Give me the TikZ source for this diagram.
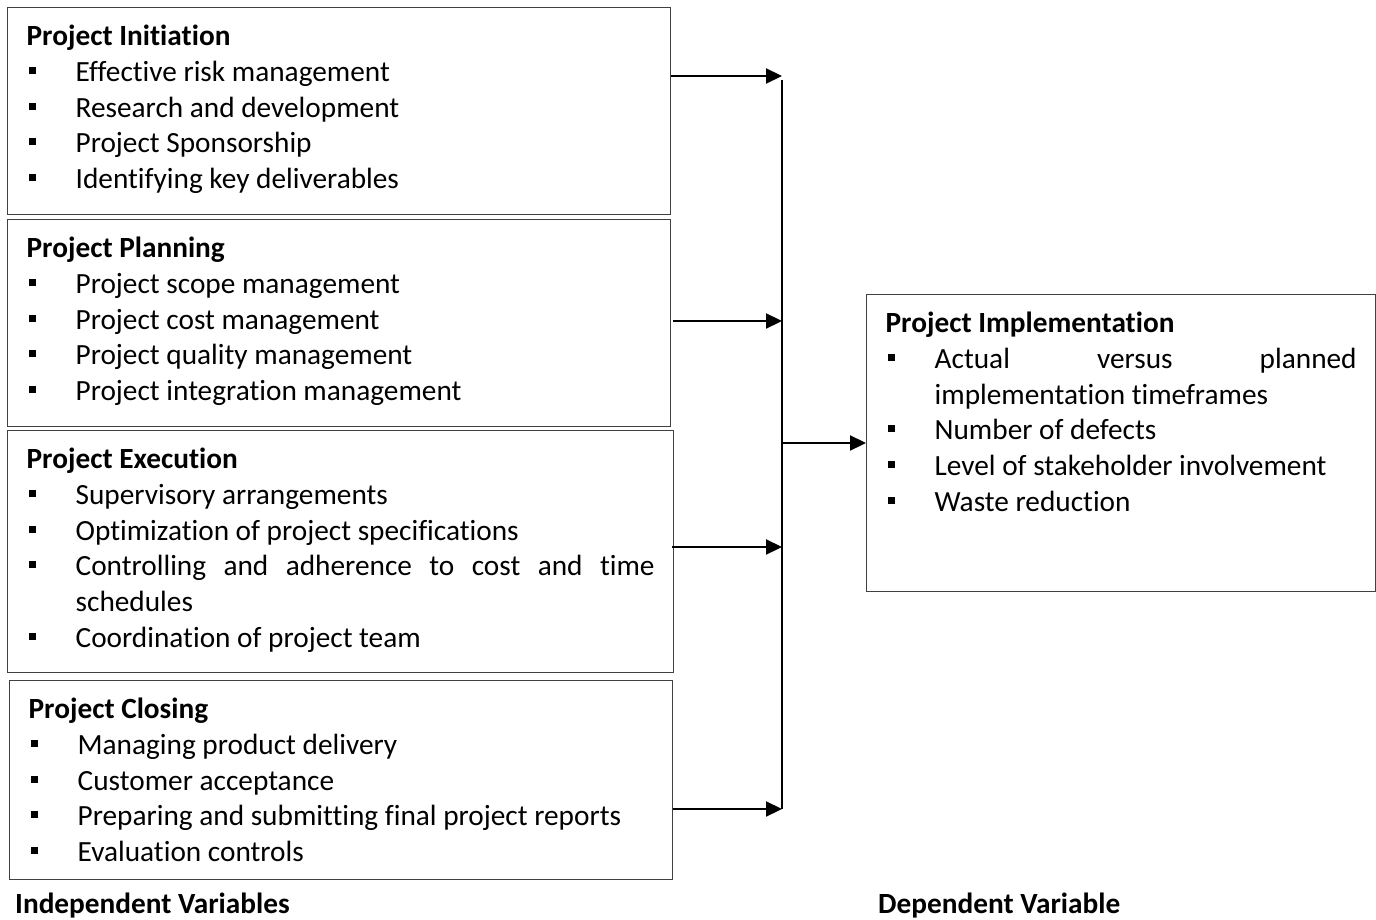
\documentclass[tikz,border=0pt]{standalone}
\usepackage{fontspec}
\setmainfont{Carlito}[Ligatures=NoCommon]
\usetikzlibrary{arrows.meta}

\newcommand{\ptitle}[1]{\vspace*{13pt}\noindent\strut\textbf{#1}\par}
\newcommand{\pitem}[1]{\par\leftskip=49pt\noindent\llap{\raisebox{7.5pt}{\rule{7pt}{7pt}}\hspace{40pt}}#1\par}

\begin{document}
\begin{tikzpicture}[x=1pt, y=-1pt,
    panel/.style={draw=black!75, line width=1.3pt, anchor=north west, inner xsep=19pt, inner ysep=0pt,
      font={\fontsize{29.3}{35.7}\selectfont\tolerance=10000\hyphenpenalty=10000}},
    caption/.style={anchor=base west, inner sep=0pt, font=\fontsize{29.3}{35.7}\selectfont\bfseries},
    flow/.style={line width=2.2pt, -{Triangle[length=16pt,width=15pt]}},
    bus/.style={line width=2.2pt}]
	\useasboundingbox (0,0) rectangle (1376,920);
	% independent variables
	\node[panel] (init) at (7,7) {\parbox[t][207pt][t]{625pt}{%
		\ptitle{Project Initiation}
		\pitem{Effective risk management}
		\pitem{Research and development}
		\pitem{Project Sponsorship}
		\pitem{Identifying key deliverables}}};
	\node[panel] (plan) at (7,219) {\parbox[t][207pt][t]{625pt}{%
		\ptitle{Project Planning}
		\pitem{Project scope management}
		\pitem{Project cost management}
		\pitem{Project quality management}
		\pitem{Project integration management}}};
	\node[panel] (exec) at (7,430) {\parbox[t][242pt][t]{628pt}{%
		\ptitle{Project Execution}
		\pitem{Supervisory arrangements}
		\pitem{Optimization of project specifications}
		\pitem{Controlling and adherence to cost and time schedules}
		\pitem{Coordination of project team}}};
	\node[panel] (close) at (9,680) {\parbox[t][199pt][t]{625pt}{%
		\ptitle{Project Closing}
		\pitem{Managing product delivery}
		\pitem{Customer acceptance}
		\pitem{Preparing and submitting final project reports}
		\pitem{Evaluation controls}}};
	% dependent variable
	\node[panel] (impl) at (866,294) {\parbox[t][297pt][t]{471pt}{%
		\ptitle{Project Implementation}
		\pitem{Actual versus planned implementation timeframes}
		\pitem{Number of defects}
		\pitem{Level of stakeholder involvement}
		\pitem{Waste reduction}}};
	\node[caption] (indep) at (15,913) {Independent Variables};
	\node[caption] (dep) at (878,913) {Dependent Variable};
	% connectors
	\coordinate (bustop) at (782,80);
	\coordinate (j1) at (782,76);
	\coordinate (j2) at (782,321);
	\coordinate (j3) at (782,547);
	\coordinate (j4) at (782,809);
	\coordinate (jout) at (782,443);
	\draw[bus] (bustop) -- (j4);
	\draw[flow] (init.east |- j1) -- (j1);
	\draw[flow] (plan.east |- j2) ++(2,0) -- (j2);
	\draw[flow] (exec.east |- j3) ++(-2,0) -- (j3);
	\draw[flow] (close.east |- j4) -- (j4);
	\draw[flow] (jout) -- (impl.west |- jout);
\end{tikzpicture}
\end{document}
